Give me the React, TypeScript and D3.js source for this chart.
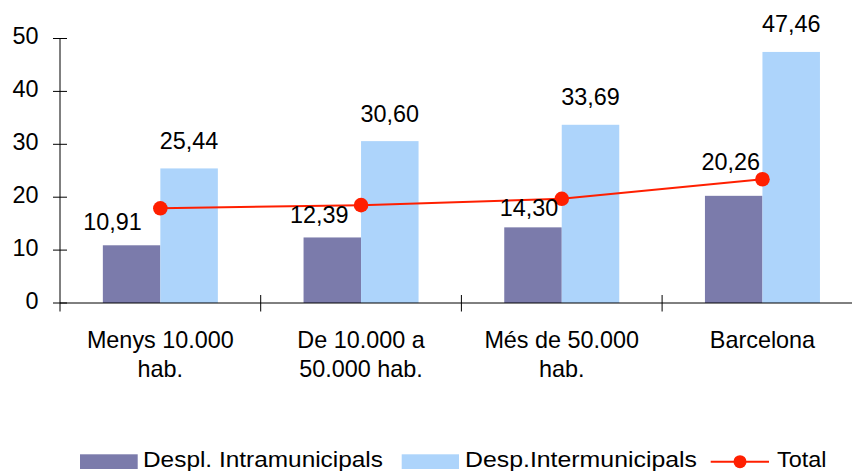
import React from "react";
import * as d3 from "d3";

const categories: string[][] = [
  ["Menys 10.000", "hab."],
  ["De 10.000 a", "50.000 hab."],
  ["Més de 50.000", "hab."],
  ["Barcelona"],
];
const intra = [10.91, 12.39, 14.3, 20.26];
const inter = [25.44, 30.6, 33.69, 47.46];
const total = [17.9, 18.5, 19.7, 23.4];
const yTicks = [0, 10, 20, 30, 40, 50];
const seriesNames = ["Despl. Intramunicipals", "Desp.Intermunicipals", "Total"];

// label nudges (style), as in the original chart
const intraLabelDx = [-19, -13, -4, -3];
const intraLabelDy = [-15, -14.3, -11.5, -25.6];

const W = 852;
const H = 471;
const DARK = "#7b7bab";
const LIGHT = "#add4fb";
const RED = "#ff1f00";
const FONT = "'Liberation Sans', Arial, sans-serif";
const FS = 23.4;

const fmt = (v: number) => v.toFixed(2).replace(".", ",");

export default function App() {
  const x = d3
    .scaleBand<number>()
    .domain(d3.range(categories.length))
    .range([60, 862.8])
    .padding(0);
  const y = d3.scaleLinear().domain([0, 50]).range([303, 38.5]);
  const barW = 57.5;
  const cx = (i: number) => (x(i) as number) + x.bandwidth() / 2;
  const line = d3
    .line<number>()
    .x((_, i) => cx(i))
    .y((d) => y(d));

  return (
    <svg
      width={W}
      height={H}
      style={{ position: "fixed", left: 0, top: 0, background: "#fff" }}
      fontFamily={FONT}
    >
      <rect width={W} height={H} fill="#fff" />
      {/* bars */}
      {intra.map((v, i) => (
        <rect
          key={"a" + i}
          x={cx(i) - barW}
          y={y(v)}
          width={barW}
          height={y(0) - y(v)}
          fill={DARK}
        />
      ))}
      {inter.map((v, i) => (
        <rect
          key={"b" + i}
          x={cx(i)}
          y={y(v)}
          width={barW}
          height={y(0) - y(v)}
          fill={LIGHT}
        />
      ))}
      {/* y axis */}
      <line x1={60} x2={60} y1={y(50)} y2={311.5} stroke="#000" strokeWidth={1} />
      {yTicks.map((t) => (
        <g key={"t" + t}>
          <line x1={53} x2={67} y1={y(t)} y2={y(t)} stroke="#000" strokeWidth={1} />
          <text x={38.5} y={y(t) + 5.8} textAnchor="end" fontSize={FS} fill="#000">
            {t}
          </text>
        </g>
      ))}
      {/* x axis */}
      <line x1={60} x2={W} y1={y(0)} y2={y(0)} stroke="#000" strokeWidth={1} />
      {d3.range(1, categories.length).map((i) => (
        <line
          key={"xt" + i}
          x1={x(i) as number}
          x2={x(i) as number}
          y1={295}
          y2={311.5}
          stroke="#000"
          strokeWidth={1}
        />
      ))}
      {categories.map((lines, i) => (
        <text key={"c" + i} x={cx(i)} y={348} textAnchor="middle" fontSize={FS} fill="#000">
          {lines.map((l, j) => (
            <tspan key={j} x={cx(i)} dy={j === 0 ? 0 : 29}>
              {l}
            </tspan>
          ))}
        </text>
      ))}
      {/* total line */}
      <path d={line(total) || ""} fill="none" stroke={RED} strokeWidth={2} />
      {total.map((v, i) => (
        <circle key={"p" + i} cx={cx(i)} cy={y(v)} r={7.3} fill={RED} />
      ))}
      {/* data labels */}
      {intra.map((v, i) => (
        <text
          key={"la" + i}
          x={cx(i) - barW / 2 + intraLabelDx[i]}
          y={y(v) + intraLabelDy[i]}
          textAnchor="middle"
          fontSize={FS}
          fill="#000"
        >
          {fmt(v)}
        </text>
      ))}
      {inter.map((v, i) => (
        <text
          key={"lb" + i}
          x={cx(i) + barW / 2}
          y={y(v) - 19.5}
          textAnchor="middle"
          fontSize={FS}
          fill="#000"
        >
          {fmt(v)}
        </text>
      ))}
      {/* legend */}
      <rect x={80} y={454.3} width={57.7} height={14.7} fill={DARK} />
      <text x={143} y={467} fontSize={21.5} textLength={240} lengthAdjust="spacingAndGlyphs" fill="#000">
        {seriesNames[0]}
      </text>
      <rect x={401.7} y={454.3} width={57.3} height={14.7} fill={LIGHT} />
      <text x={465} y={467} fontSize={21.5} textLength={232} lengthAdjust="spacingAndGlyphs" fill="#000">
        {seriesNames[1]}
      </text>
      <line x1={710.7} x2={769} y1={461.7} y2={461.7} stroke={RED} strokeWidth={2} />
      <circle cx={740} cy={461.7} r={6.5} fill={RED} />
      <text x={777} y={467} fontSize={21.5} textLength={49.5} lengthAdjust="spacingAndGlyphs" fill="#000">
        {seriesNames[2]}
      </text>
    </svg>
  );
}
